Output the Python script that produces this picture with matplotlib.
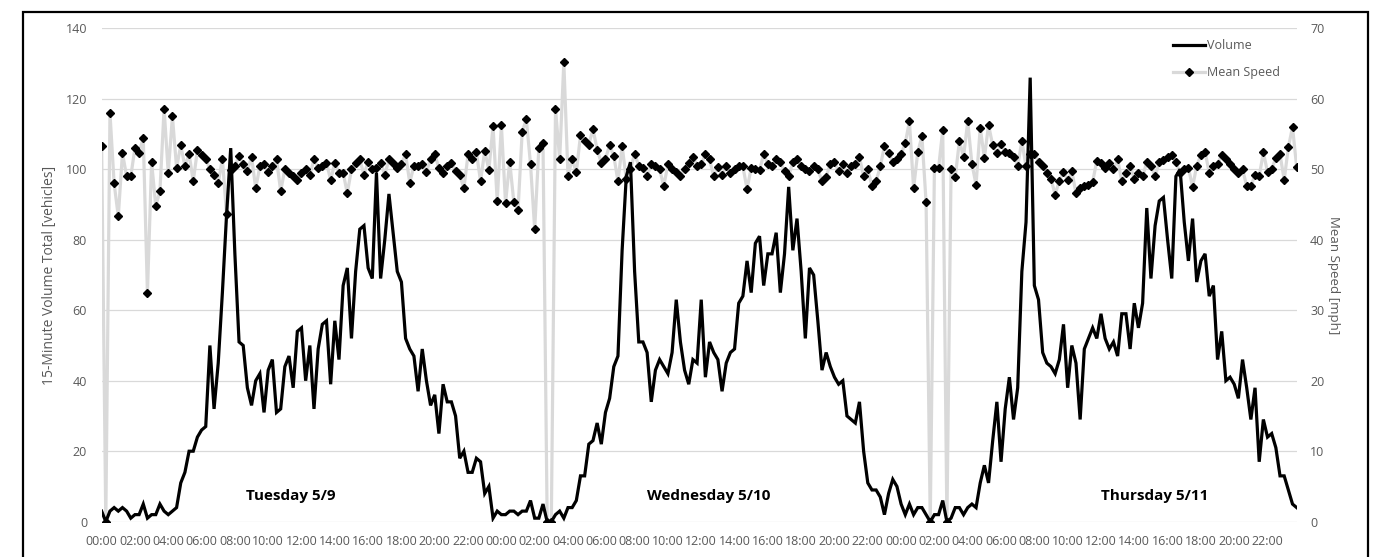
import numpy as np
import matplotlib
matplotlib.use("Agg")
import matplotlib.pyplot as plt
from matplotlib.lines import Line2D
from matplotlib.patches import Rectangle

plt.rcParams["font.family"] = ["Open Sans", "DejaVu Sans"]

# ── data: 15-minute bins, 96 per day ────────────────────────────────────────
hours = [f"{h:02d}:00" for h in range(0, 24, 2)]
tick_labels = hours * 3
day_labels = ["Tuesday 5/9", "Wednesday 5/10", "Thursday 5/11"]

volume_tue = [3, 0, 3, 4, 3, 4, 3, 1, 2, 2, 5, 1, 2, 2, 5, 3, 2, 3, 4, 11,
              14, 20, 20, 24, 26, 27, 50, 32, 45, 65, 87, 106, 76, 51, 50, 38, 33, 40, 42, 31,
              43, 46, 31, 32, 44, 47, 38, 54, 55, 40, 50, 32, 49, 56, 57, 39, 57, 46, 67, 72,
              52, 71, 83, 84, 72, 69, 99, 69, 80, 93, 82, 71, 68, 52, 49, 47, 37, 49, 40, 33,
              36, 25, 39, 34, 34, 30, 18, 20, 14, 14, 18, 17, 8, 10, 1, 3]
volume_wed = [2, 2, 3, 3, 2, 3, 3, 6, 1, 1, 5, 0, 0, 2, 3, 1, 4, 4, 6, 13,
              13, 22, 23, 28, 22, 31, 35, 44, 47, 77, 98, 102, 71, 51, 51, 48, 34, 43, 46, 44,
              42, 48, 63, 51, 43, 39, 46, 45, 63, 41, 51, 48, 46, 37, 45, 48, 49, 62, 64, 74,
              65, 79, 81, 67, 76, 76, 82, 65, 76, 95, 77, 86, 71, 52, 72, 70, 57, 43, 48, 44,
              41, 39, 40, 30, 29, 28, 34, 20, 11, 9, 9, 7, 2, 8, 12, 10]
volume_thu = [5, 2, 5, 2, 4, 4, 2, 0, 2, 2, 6, 0, 1, 4, 4, 2, 4, 5, 4, 11,
              16, 11, 23, 34, 17, 32, 41, 29, 38, 71, 85, 126, 67, 63, 48, 45, 44, 42, 46, 56,
              38, 50, 45, 29, 49, 52, 55, 52, 59, 52, 49, 51, 47, 59, 59, 49, 62, 55, 62, 89,
              69, 84, 91, 92, 80, 69, 98, 100, 85, 74, 86, 68, 74, 76, 64, 67, 46, 54, 40, 41,
              39, 35, 46, 38, 29, 38, 17, 29, 24, 25, 21, 13, 13, 9, 5, 4]

speed_tue = [53.3, 0, 58.0, 48.0, 43.3, 52.3, 49.0, 49.0, 53.0, 52.3,
             54.5, 32.4, 51.0, 44.8, 46.9, 58.6, 49.5, 57.5, 50.2, 53.4,
             50.4, 52.2, 48.3, 52.7, 52.0, 51.5, 50.0, 49.2, 48.0, 51.5,
             43.6, 49.9, 50.4, 51.9, 50.7, 49.7, 51.8, 47.3, 50.4, 50.7,
             49.6, 50.5, 51.4, 46.9, 50.0, 49.5, 49.1, 48.5, 49.4, 50.0,
             49.2, 51.4, 50.2, 50.4, 50.9, 48.5, 50.9, 49.5, 49.5, 46.6,
             50.0, 50.9, 51.4, 49.2, 51.1, 50.0, 50.2, 50.9, 49.2, 51.4,
             50.9, 50.2, 50.8, 52.1, 48.1, 50.5, 50.5, 50.8, 49.6, 51.5,
             52.1, 50.2, 49.5, 50.4, 50.9, 49.7, 49.2, 47.3, 52.1, 51.4,
             52.4, 48.3, 52.6, 49.9, 56.1, 45.5]
speed_wed = [56.3, 45.2, 51.1, 45.3, 44.2, 55.3, 57.1, 50.7, 41.5, 53.0,
             53.7, 0, 0, 58.6, 51.4, 65.2, 49.1, 51.4, 49.6, 54.8,
             54.0, 53.5, 55.7, 52.8, 50.9, 51.5, 53.4, 51.9, 48.3, 53.3,
             48.6, 50.0, 52.2, 50.5, 50.2, 49.1, 50.7, 50.4, 50.0, 47.6,
             50.7, 50.0, 49.6, 49.1, 50.0, 50.9, 51.8, 50.5, 50.7, 52.1,
             51.4, 49.0, 50.3, 49.2, 50.4, 49.5, 50.0, 50.4, 50.4, 47.2,
             50.2, 50.0, 49.9, 52.1, 50.8, 50.4, 51.4, 51.0, 49.7, 49.0,
             51.0, 51.5, 50.4, 50.0, 49.7, 50.4, 50.0, 48.3, 48.9, 50.8,
             51.0, 49.7, 50.8, 49.5, 50.4, 50.8, 51.7, 49.0, 50.0, 47.6,
             48.3, 50.4, 53.3, 52.3, 51.0, 51.4]
speed_thu = [52.1, 53.7, 56.8, 47.3, 52.4, 54.7, 45.3, 0, 50.2, 50.2,
             55.6, 0, 50.0, 48.9, 54.0, 51.8, 56.8, 50.8, 47.8, 55.9,
             51.6, 56.3, 53.4, 52.3, 53.6, 52.4, 52.3, 51.8, 50.5, 54.0,
             50.4, 52.1, 52.2, 51.1, 50.4, 49.5, 48.6, 46.4, 48.4, 49.6,
             48.5, 49.7, 46.6, 47.3, 47.6, 47.8, 48.2, 51.2, 50.9, 50.2,
             50.9, 50.0, 51.4, 48.3, 49.4, 50.5, 48.6, 49.5, 49.0, 51.0,
             50.5, 49.0, 51.0, 51.3, 51.8, 52.0, 51.0, 49.5, 50.0, 50.2,
             47.5, 50.5, 52.0, 52.5, 49.5, 50.5, 50.8, 52.0, 51.5, 50.8,
             50.0, 49.5, 50.0, 47.6, 47.6, 49.2, 49.0, 52.4, 49.6, 50.0,
             51.6, 52.1, 48.5, 53.1, 56.0, 50.3]

volume = np.array(volume_tue + volume_wed + volume_thu)
speed = np.array(speed_tue + speed_wed + speed_thu)
x = np.arange(len(volume))

GRID = "#d9d9d9"
TXT = "#595959"

fig = plt.figure(figsize=(13.79, 5.57), dpi=100)
ax = fig.add_axes([0.0737, 0.0634, 0.8666, 0.8858])
ax2 = ax.twinx()
# volume drawn above speed, grid lives on the speed axis (same positions)
ax.set_zorder(ax2.get_zorder() + 1)
ax.patch.set_visible(False)

ax2.plot(x, speed, color=GRID, lw=2.3, marker="D", ms=4.2,
         mfc="black", mec="black", zorder=2)
ax.plot(x, volume, color="black", lw=2.3, solid_joinstyle="miter", zorder=3)

ax.set_xlim(0, len(x) - 1)
ax.set_ylim(0, 140)
ax2.set_ylim(0, 70)
ax.set_yticks(range(0, 141, 20))
ax2.set_yticks(range(0, 71, 10))
ax.set_xticks(x[::8])
ax.set_xticklabels(tick_labels)

ax2.yaxis.grid(True, color=GRID, lw=0.9)
ax2.set_axisbelow(True)
for a in (ax, ax2):
    for s in a.spines.values():
        s.set_visible(False)
ax.tick_params(axis="x", length=0, labelsize=9, colors=TXT, pad=9.5)
ax.tick_params(axis="y", length=0, labelsize=9, colors=TXT, pad=10.5)
ax2.tick_params(axis="y", length=0, labelsize=9, colors=TXT, pad=9.6)

ax.set_ylabel("15-Minute Volume Total [vehicles]", fontsize=10, color=TXT)
ax.yaxis.set_label_coords(-0.0374, 0.5)
ax2.set_ylabel("Mean Speed [mph]", fontsize=9.5, color=TXT, rotation=270, va="center")
ax2.yaxis.set_label_coords(1.0304, 0.5)

# day captions
for lbl, xc in zip(day_labels, [45.5, 145.8, 253.0]):
    ax.text(xc, 7.2, lbl, ha="center", va="center", fontsize=11,
            fontweight="bold", color="black")

handles = [Line2D([], [], color="black", lw=2.3),
           Line2D([], [], color=GRID, lw=2.3, marker="D", ms=4.2,
                  mfc="black", mec="black")]
fig.legend(handles, ["Volume", "Mean Speed"], loc="upper left",
           bbox_to_anchor=(1173 / 1379, 1 - 39 / 557), frameon=False,
           fontsize=9, handlelength=2.55, handletextpad=0.15,
           labelspacing=1.15, borderpad=0, borderaxespad=0, labelcolor=TXT)

# outer chart border
fig.add_artist(Rectangle((22.7 / 1379, -0.02), (1368 - 22.7) / 1379,
                         1 - 11.7 / 557 + 0.02, transform=fig.transFigure,
                         fill=False, ec="black", lw=1.6))

fig.savefig("out.png", dpi=100)
